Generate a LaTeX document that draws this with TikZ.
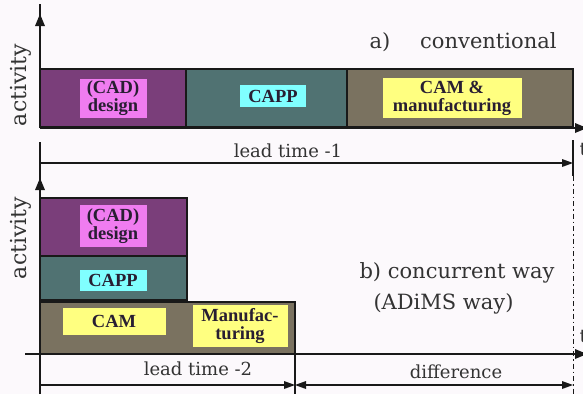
\documentclass[tikz,border=0pt]{standalone}
\usepackage{fontspec}
\setmainfont{Liberation Serif}
\newfontfamily\serifx{Liberation Serif}
\newfontfamily\serify{DejaVu Serif}
\definecolor{bgc}{RGB}{252,249,252}
\definecolor{designc}{RGB}{122,62,122}
\definecolor{cappc}{RGB}{80,114,114}
\definecolor{camc}{RGB}{122,114,96}
\definecolor{pinkc}{RGB}{240,124,240}
\definecolor{cyanc}{RGB}{128,255,255}
\definecolor{yellc}{RGB}{255,255,128}
\definecolor{linec}{RGB}{25,25,25}
\definecolor{tagtext}{RGB}{40,30,50}
\begin{document}
\begin{tikzpicture}[x=1pt,y=-1pt,
  bar/.style={draw=linec,line width=2pt,anchor=north west,inner sep=0pt,outer sep=0pt},
  tag/.style={font=\serifx\bfseries\fontsize{18.5}{18}\selectfont,align=center,inner sep=1pt,text=tagtext},
  axis/.style={draw=linec,line width=2.2pt},
  dim/.style={draw=linec,line width=1.5pt},
  lbl/.style={font=\serify\fontsize{18}{19}\selectfont,text=black!80},
  ttl/.style={font=\serify\fontsize{21}{22}\selectfont,text=black!80,anchor=west},
  ahR/.pic={\fill[linec] (0,0) -- (-12,-5) -- (-12,5) -- cycle;},
  ahU/.pic={\fill[linec] (0,0) -- (-5,12) -- (5,12) -- cycle;},
  tR/.pic={\fill[linec] (0,0) -- (-11,-4) -- (-11,4) -- cycle;},
  tL/.pic={\fill[linec] (0,0) -- (11,-4) -- (11,4) -- cycle;}]
\fill[bgc] (0,0) rectangle (583,394);
\useasboundingbox (0,0) rectangle (583,394);
% ---------- a) conventional ----------
\node[bar,fill=designc,minimum width=146pt,minimum height=58pt] (d1) at (40,69) {};
\node[bar,fill=cappc,minimum width=161pt,minimum height=58pt] (p1) at (186,69) {};
\node[bar,fill=camc,minimum width=226pt,minimum height=58pt] (m1) at (347,69) {};
\node[tag,fill=pinkc,minimum width=67pt,minimum height=39pt] (td1) at (113,98) {(CAD)\\design};
\node[tag,fill=cyanc,minimum width=66pt,minimum height=22pt] (tp1) at (273,96) {CAPP};
\node[tag,fill=yellc,minimum width=139pt,minimum height=40pt] (tm1) at (452,98) {CAM \&\\manufacturing};
\coordinate (o1) at (40,128);
\coordinate (ya1) at (40,14);
\coordinate (xa1) at (583,128);
\draw[axis] (o1) -- ([yshift=10pt]ya1);
\pic at (ya1) {ahU};
\draw[axis] (o1) -- (xa1);
\pic at ([xshift=4pt]xa1) {ahR};
\node[lbl,font=\serify\fontsize{22}{23}\selectfont,rotate=90] (act1) at (21,85) {activity};
\node[ttl] (ta) at (366,42) {a)\hspace{30pt}conventional};
\node[lbl,anchor=west] (t1) at (576,150) {t};
\coordinate (l1a) at (40,142);
\coordinate (l1b) at (40,172);
\draw[dim] (l1a) -- (l1b);
\coordinate (e1a) at (573,140);
\coordinate (e1b) at (573,176);
\coordinate (e1c) at (573,394);
\draw[dim] (e1a) -- (e1b);
\draw[dim,line width=1pt,dash pattern=on 5pt off 3pt on 1.5pt off 3pt] (e1b) -- (e1c);
\coordinate (lt1s) at (40,163);
\coordinate (lt1e) at (573,163);
\draw[dim] (lt1s) -- ([xshift=-6pt]lt1e);
\pic at (lt1e) {tR};
\node[lbl] (lt1) at (288,151) {lead time -1};
% ---------- b) concurrent ----------
\node[bar,fill=designc,minimum width=147pt,minimum height=58pt] (d2) at (40,198) {};
\node[bar,fill=cappc,minimum width=147pt,minimum height=44pt] (p2) at (40,256) {};
\node[bar,fill=camc,minimum width=255pt,minimum height=52pt] (m2) at (40,302) {};
\node[tag,fill=pinkc,minimum width=67pt,minimum height=42pt] (td2) at (113,226) {(CAD)\\design};
\node[tag,fill=cyanc,minimum width=67pt,minimum height=21pt] (tp2) at (113,280) {CAPP};
\node[tag,fill=yellc,minimum width=103pt,minimum height=27pt] (tc2) at (114,321) {CAM};
\node[tag,fill=yellc,minimum width=95pt,minimum height=42pt] (tf2) at (240,326) {Manufac-\\turing};
\coordinate (o2) at (40,394);
\coordinate (ya2) at (40,178);
\coordinate (xs2) at (25,354);
\coordinate (xa2) at (583,354);
\draw[axis] (o2) -- ([yshift=10pt]ya2);
\pic at (ya2) {ahU};
\draw[axis] (xs2) -- (xa2);
\pic at ([xshift=4pt]xa2) {ahR};
\node[lbl,font=\serify\fontsize{22}{23}\selectfont,rotate=90] (act2) at (21,238) {activity};
\node[ttl] (tb) at (356,273) {b) concurrent way};
\node[ttl] (tb2) at (370,304) {(ADiMS way)};
\node[lbl,anchor=west] (t2) at (576,336) {t};
\coordinate (e2a) at (295,355);
\coordinate (e2b) at (295,394);
\draw[dim] (e2a) -- (e2b);
\coordinate (lt2s) at (40,385);
\coordinate (lt2e) at (295,385);
\draw[dim] (lt2s) -- ([xshift=-6pt]lt2e);
\pic at (lt2e) {tR};
\node[lbl] (lt2) at (198,369) {lead time -2};
\coordinate (dfs) at (295,385);
\coordinate (dfe) at (573,385);
\draw[dim] ([xshift=6pt]dfs) -- ([xshift=-6pt]dfe);
\pic at (dfs) {tL};
\pic at (dfe) {tR};
\node[lbl] (dft) at (456,372) {difference};
\end{tikzpicture}
\end{document}
